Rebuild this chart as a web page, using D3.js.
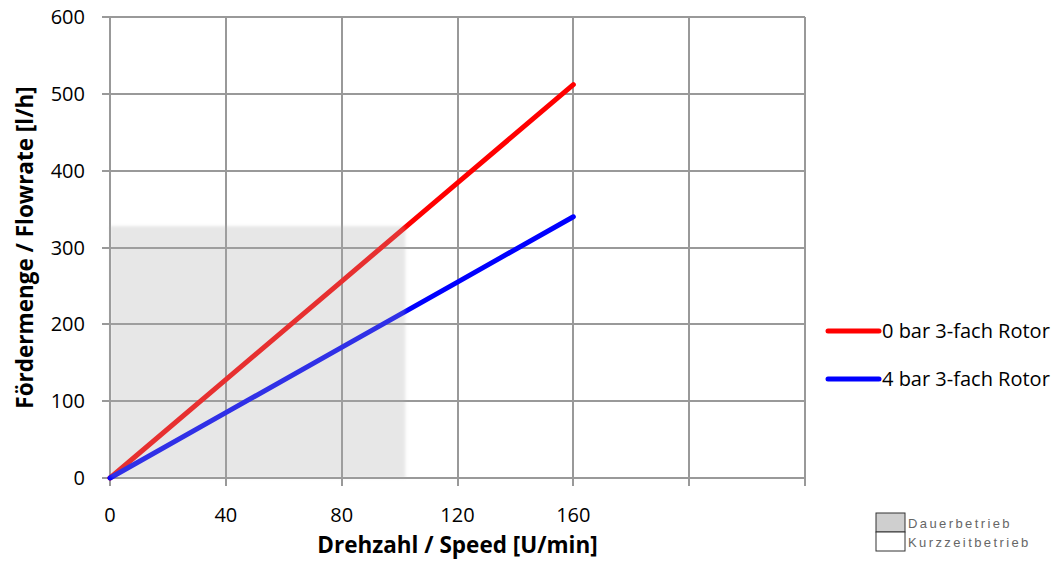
<!DOCTYPE html>
<html lang="de">
<head>
  <meta charset="UTF-8">
  <title>Fördermenge</title>
  <script src="https://d3js.org/d3.v7.min.js"></script>
  <style>
    body { margin: 0; background: #fff; }
    svg { font-family: "Open Sans", Lato, sans-serif; }
    .grid line { stroke: #999; stroke-width: 2; shape-rendering: crispEdges; }
    .tick-label { font-size: 20px; fill: #000; }
    .axis-title { font-size: 22.5px; font-weight: bold; fill: #000; }
    .legend text { font-size: 20px; fill: #000; }
  </style>
</head>
<body>
<div id="chart"></div>
<script>
  // data
  var speeds = [0, 40, 80, 120, 160];
  var flow0bar = [0, 128, 256, 384, 512];
  var flow4bar = [0, 85, 170, 255, 340];
  var seriesNames = ["0 bar 3-fach Rotor", "4 bar 3-fach Rotor"];
  var seriesColors = ["#ff0000", "#0000ff"];
  var xTicks = [0, 40, 80, 120, 160, 200, 240];
  var xTickLabels = ["0", "40", "80", "120", "160", "", ""];
  var yTicks = [0, 100, 200, 300, 400, 500, 600];
  var dauerSpeed = 102, dauerFlow = 328;  // continuous duty region
  var opLegend = ["Dauerbetrieb", "Kurzzeitbetrieb"];

  var margin = { top: 17, right: 248, bottom: 91, left: 110 },
    width = 1053 - margin.left - margin.right,
    height = 569 - margin.top - margin.bottom;

  var x = d3.scaleLinear().domain([0, 240]).range([0, width]);
  var y = d3.scaleLinear().domain([0, 600]).range([height, 0]);

  var svg = d3.select("#chart").append("svg")
    .attr("width", 1053)
    .attr("height", 569);

  var defs = svg.append("defs");
  defs.append("filter").attr("id", "soft")
    .attr("x", -0.1).attr("y", -0.1).attr("width", 1.2).attr("height", 1.2)
    .append("feGaussianBlur").attr("stdDeviation", 1.5);

  var g = svg.append("g")
    .attr("transform", "translate(" + margin.left + "," + margin.top + ")");

  // grid
  var grid = g.append("g").attr("class", "grid");
  grid.selectAll(".h").data(yTicks).enter().append("line")
    .attr("x1", -8).attr("x2", width)
    .attr("y1", function (d) { return y(d); })
    .attr("y2", function (d) { return y(d); });
  grid.selectAll(".v").data(xTicks).enter().append("line")
    .attr("x1", function (d) { return x(d); })
    .attr("x2", function (d) { return x(d); })
    .attr("y1", 0).attr("y2", height + 8);

  // tick labels
  g.selectAll(".ylab").data(yTicks).enter().append("text")
    .attr("class", "tick-label")
    .attr("x", -25)
    .attr("y", function (d) { return y(d); })
    .attr("dy", "0.35em")
    .attr("text-anchor", "end")
    .text(function (d) { return d; });
  g.selectAll(".xlab").data(xTicks).enter().append("text")
    .attr("class", "tick-label")
    .attr("x", function (d) { return x(d); })
    .attr("y", height + 44)
    .attr("text-anchor", "middle")
    .text(function (d, i) { return xTickLabels[i]; });

  // series
  var line = d3.line()
    .x(function (d, i) { return x(speeds[i]); })
    .y(function (d) { return y(d); });
  [flow0bar, flow4bar].forEach(function (s, i) {
    g.append("path")
      .datum(s)
      .attr("d", line)
      .attr("fill", "none")
      .attr("stroke", seriesColors[i])
      .attr("stroke-width", 5)
      .attr("stroke-linecap", "round");
  });

  // shaded duty region laid over the lines
  g.append("rect")
    .attr("x", x(0))
    .attr("y", y(dauerFlow))
    .attr("width", x(dauerSpeed) - x(0))
    .attr("height", y(0) - y(dauerFlow))
    .attr("fill", "rgb(171,171,171)")
    .attr("opacity", 0.28)
    .attr("filter", "url(#soft)");

  // axis titles
  svg.append("text")
    .attr("class", "axis-title")
    .attr("x", margin.left + x(120))
    .attr("y", 553)
    .attr("text-anchor", "middle")
    .text("Drehzahl / Speed [U/min]");
  svg.append("text")
    .attr("class", "axis-title")
    .attr("transform", "translate(33," + (margin.top + y(300)) + ") rotate(-90)")
    .attr("text-anchor", "middle")
    .text("Fördermenge / Flowrate [l/h]");

  // series legend
  var legend = svg.append("g").attr("class", "legend");
  seriesNames.forEach(function (name, i) {
    var ly = 331 + i * 48;
    legend.append("line")
      .attr("x1", 828).attr("x2", 879)
      .attr("y1", ly).attr("y2", ly)
      .attr("stroke", seriesColors[i])
      .attr("stroke-width", 5)
      .attr("stroke-linecap", "round");
    legend.append("text")
      .attr("x", 882).attr("y", ly)
      .attr("dy", "0.35em")
      .text(name);
  });

  // operation mode legend
  var op = svg.append("g");
  opLegend.forEach(function (name, i) {
    var by = 513 + i * 19;
    op.append("rect")
      .attr("x", 876).attr("y", by)
      .attr("width", 29).attr("height", 19)
      .attr("fill", i === 0 ? "#cfcfcf" : "#fff")
      .attr("stroke", "#333").attr("stroke-width", 1);
    op.append("text")
      .attr("x", 908).attr("y", by + 10)
      .attr("dy", "0.35em")
      .attr("font-size", 13)
      .attr("letter-spacing", 2.4)
      .attr("fill", "#666")
      .attr("font-family", "Liberation Sans, sans-serif")
      .text(name);
  });
</script>
</body>
</html>
